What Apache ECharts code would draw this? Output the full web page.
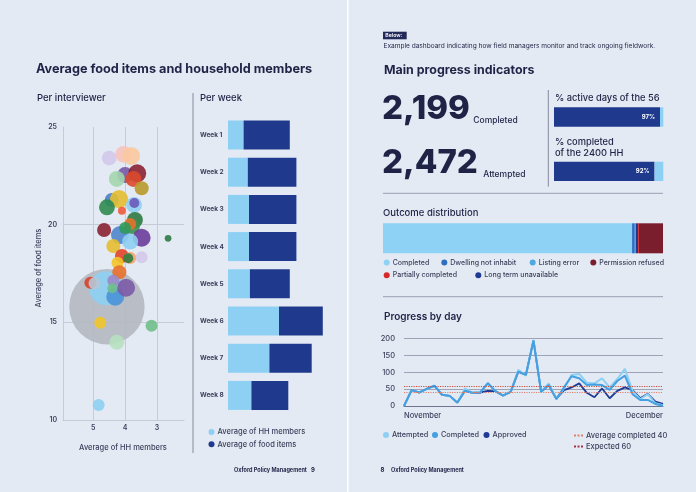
<!DOCTYPE html>
<html><head><meta charset="utf-8">
<script src="https://cdn.jsdelivr.net/npm/echarts@6/dist/echarts.min.js"></script>
<style>html,body{margin:0;padding:0;background:#e4eaf3}#c{width:696px;height:492px}</style>
</head><body><div id="c"></div><script>
// ---------- DATA ----------
// Per interviewer bubbles: avg HH members (x), avg food items (y), interviews (bubble size)
const bubbleHH    = [4.57,4.60,4.50,4.05,3.81,4.00,3.62,4.26,3.74,3.48,4.42,4.19,4.57,3.72,3.71,4.10,3.69,3.78,3.84,4.66,4.16,4.00,3.48,2.65,3.84,4.37,4.10,3.84,3.48,3.90,4.24,4.18,5.09,4.96,4.31,3.97,4.37,4.40,4.78,3.17,4.26,4.83];
const bubbleFood  = [15.80,16.74,23.41,23.60,23.52,22.54,22.63,22.34,22.34,21.86,21.26,21.31,20.89,21.01,21.11,20.71,20.24,19.93,20.03,19.73,19.47,19.83,19.33,19.30,19.13,18.91,18.40,18.29,18.33,18.28,18.05,17.56,17.03,17.00,16.31,16.77,17.13,16.74,14.98,14.83,13.98,10.77];
const bubbleInterviews = [632,128,24,31,36,28,36,28,28,22,22,36,28,28,11,7,28,28,16,22,36,16,36,5,28,22,22,16,16,11,16,22,16,16,36,36,16,11,16,16,25,16];
const hhTicks = [3,4,5];

// Per week
const weeks = ['Week 1','Week 2','Week 3','Week 4','Week 5','Week 6','Week 7','Week 8'];
const weekHH   = [5.2,6.6,7.0,7.0,7.3,17.0,13.8,7.8];
const weekFood = [15.4,16.2,15.8,15.8,13.3,14.6,14.1,12.3];

// Main indicators
const kpiCompleted = 2199;
const kpiAttempted = 2472;
const activeDaysTotal = 56;
const activeDaysPct = 97;
const hhTarget = 2400;
const completedPct = 92;

// Outcome distribution (bar order)
const outcomeNames  = ['Completed','Dwelling not inhabit','Listing error','Long term unavailable','Partially completed','Permission refused'];
const outcomeCounts = [2199,24,9,20,8,212];

// Progress by day
const dayLabels = ['1 Nov','2 Nov','3 Nov','4 Nov','5 Nov','6 Nov','7 Nov','8 Nov','9 Nov','10 Nov','11 Nov','12 Nov','13 Nov','14 Nov','15 Nov','16 Nov','17 Nov','18 Nov','19 Nov','20 Nov','21 Nov','22 Nov','23 Nov','24 Nov','25 Nov','26 Nov','27 Nov','28 Nov','29 Nov','30 Nov','1 Dec','2 Dec','3 Dec','4 Dec','5 Dec'];
const attempted = [0,47,40,51,60,33,30,10,52,39,42,66,44,31,42,107,90,196,42,67,21,52,92,95,69,67,82,55,80,110,45,20,35,8,2];
const completed = [0,47,40,51,60,33,30,10,45,39,40,68,44,31,42,102,92,194,42,62,21,55,88,82,62,64,62,48,74,90,35,18,18,6,1];
const approved  = [0,47,40,51,60,33,30,10,45,39,40,45,44,31,42,102,92,194,42,62,21,47,55,67,39,26,52,23,45,55,47,23,36,13,6];
const avgCompleted = 40;
const expectedDaily = 60;

// ---------- STYLE ----------
const FONT = 'Inter, "Noto Sans", sans-serif';
const INK = '#1f2346';
const SUB = '#3b3f5c';
const LIGHT = '#8dd0f3';
const NAVY = '#1f3a8c';
const GRIDC = '#c6cbd7';
const bubbleColors = ['#b4b9c1','#8ecff2','#d3c9ea','#f6c3bd','#fbc9a0','#7858a8','#8a2233','#a3d6ad','#dc4a2c','#b89a2c','#4a7fcb','#e4be30','#2f8a4f','#8ecff2','#6a58b8','#ef5a3c','#2f7a44','#3b8f4f','#e8702a','#8a2233','#4f86cc','#2e9b5a','#6a3d9a','#2f7a44','#8ecff2','#e4be30','#e0442c','#f5a36a','#d3c9ea','#2e7d3e','#f2c42a','#e8702a','#d9432a','#b7c6d6','#4a93d8','#7b5aa6','#9b87c9','#6fbf8a','#f2c42a','#6fbf8a','#b7e0c0','#8ecff2'];
const outcomeColors = ['#8ed2f5','#2f6fc0','#4fa8e0','#1f3a93','#d62a2a','#7a1e2e'];
const DASH_ICON = 'path://M0 0h2v2h-2z M3.5 0h2v2h-2z M7 0h2v2h-2z';

function T(x, y, text, size, weight, color, extra) {
  return Object.assign({type:'text', x:x, y:y, silent:true, style:{
    text:text, fill:color||INK, font: weight+' '+size+'px '+FONT,
    textAlign:'left', textVerticalAlign:'middle', align:'left', verticalAlign:'middle'}}, extra||{});
}
function L(x1,y1,x2,y2,color,w){ return {type:'line', silent:true, shape:{x1:x1,y1:y1,x2:x2,y2:y2}, style:{stroke:color,lineWidth:w||1}}; }

const total = outcomeCounts.reduce((a,b)=>a+b,0);

const chart = echarts.init(document.getElementById('c'));
const legendText = function(sz){ return {fontFamily:FONT, fontSize:sz, color:SUB, fontWeight:500, padding:[0,0,0,-2]}; };
const legendBase = {padding:0, icon:'circle', itemWidth:6, itemHeight:6, textStyle:legendText(7), selectedMode:false};
function LG(name, left, top, extra){ return Object.assign({}, legendBase, {data:[name], left:left, top:top}, extra||{}); }

const option = {
  backgroundColor:'#e4eaf3',
  animation:false,
  textStyle:{fontFamily:FONT},
  grid:[
    {left:63, top:127, width:121, height:293},
    {left:228, top:116.4, width:105, height:297.6},
    {left:554, top:107.3, width:109.3, height:19.4},
    {left:554, top:161.7, width:109.3, height:19.3},
    {left:383, top:223.3, width:280, height:30},
    {left:404, top:338.5, width:259, height:67.5}
  ],
  xAxis:[
    {type:'value', gridIndex:0, inverse:true, min:2.15, max:5.95,
     axisLine:{show:true, lineStyle:{color:GRIDC}}, axisTick:{show:false, customValues:hhTicks},
     axisLabel:{customValues:hhTicks, color:SUB, fontSize:7, fontWeight:600, margin:4},
     splitLine:{show:true, lineStyle:{color:GRIDC, width:1}}},
    {type:'value', gridIndex:1, min:0, max:35, show:false},
    {type:'value', gridIndex:2, min:0, max:100, show:false},
    {type:'value', gridIndex:3, min:0, max:100, show:false},
    {type:'value', gridIndex:4, min:0, max:total, show:false},
    {type:'category', gridIndex:5, data:dayLabels, boundaryGap:false,
     axisLine:{lineStyle:{color:'#6f7590', width:1}}, axisTick:{show:false},
     axisLabel:{color:SUB, fontSize:7.5, fontWeight:500, margin:6,
       interval:function(i){return i===0 || i===dayLabels.length-1;},
       alignMinLabel:'left', alignMaxLabel:'right',
       formatter:function(v){return v.indexOf('Nov')>=0?'November':'December';}}}
  ],
  yAxis:[
    {type:'value', gridIndex:0, min:10, max:25, interval:5,
     axisLine:{show:true, lineStyle:{color:GRIDC}}, axisTick:{show:false},
     axisLabel:{color:SUB, fontSize:7, fontWeight:600, margin:6},
     splitLine:{show:true, showMaxLine:false, lineStyle:{color:GRIDC}}},
    {type:'category', gridIndex:1, data:weeks, inverse:true,
     axisLine:{show:false}, axisTick:{show:false},
     axisLabel:{align:'left', margin:28, color:SUB, fontSize:6.5, fontWeight:700}},
    {type:'category', gridIndex:2, data:['a'], show:false},
    {type:'category', gridIndex:3, data:['a'], show:false},
    {type:'category', gridIndex:4, data:['a'], show:false},
    {type:'value', gridIndex:5, min:0, max:200, interval:50,
     axisLine:{show:false}, axisTick:{show:false},
     axisLabel:{color:SUB, fontSize:7.5, fontWeight:500, margin:9},
     splitLine:{lineStyle:{color:'#8c91a8', width:0.8}}}
  ],
  legend:[
    Object.assign({}, legendBase, {data:['Average of HH members','Average of food items'], orient:'vertical', left:208.5, top:428, itemGap:4.3, textStyle:legendText(7.5)}),
    LG('Completed', 383.7, 259),
    LG('Dwelling not inhabit', 441.3, 259),
    LG('Listing error', 529.7, 259),
    LG('Permission refused', 590.3, 259),
    LG('Partially completed', 383.7, 271.7),
    LG('Long term unavailable', 475.3, 271.7),
    LG('Attempted', 383, 431.5, {textStyle:legendText(7.3)}),
    LG('Completed ', 432, 431.5, {textStyle:legendText(7.3)}),
    LG('Approved', 483.5, 431.5, {textStyle:legendText(7.3)}),
    LG('Average completed ' + avgCompleted, 574, 431.5, {icon:DASH_ICON, itemWidth:9, itemHeight:2, textStyle:legendText(7.5)}),
    LG('Expected ' + expectedDaily, 574, 442.5, {icon:DASH_ICON, itemWidth:9, itemHeight:2, textStyle:legendText(7.5)})
  ],
  series:[
    {type:'scatter', name:'Interviewers', xAxisIndex:0, yAxisIndex:0,
     data: bubbleHH.map(function(h,i){return [h, bubbleFood[i], bubbleInterviews[i]];}),
     symbolSize:function(v){return Math.sqrt(v[2])*3;},
     itemStyle:{opacity:0.9, color:function(p){return bubbleColors[p.dataIndex];}}},
    {type:'bar', name:'Average of HH members', xAxisIndex:1, yAxisIndex:1, stack:'w', barWidth:29, data:weekHH, itemStyle:{color:LIGHT}},
    {type:'bar', name:'Average of food items', xAxisIndex:1, yAxisIndex:1, stack:'w', barWidth:29, data:weekFood, itemStyle:{color:NAVY}},
    {type:'bar', name:'Active days', xAxisIndex:2, yAxisIndex:2, stack:'a', barWidth:19.4, data:[activeDaysPct], itemStyle:{color:NAVY},
     label:{show:true, position:'insideRight', formatter:'{c}%', color:'#fff', fontSize:6, fontWeight:700, distance:5}},
    {type:'bar', name:'Inactive days', xAxisIndex:2, yAxisIndex:2, stack:'a', barWidth:19.4, data:[100-activeDaysPct], itemStyle:{color:LIGHT}},
    {type:'bar', name:'HH completed', xAxisIndex:3, yAxisIndex:3, stack:'b', barWidth:19.3, data:[completedPct], itemStyle:{color:NAVY},
     label:{show:true, position:'insideRight', formatter:'{c}%', color:'#fff', fontSize:6, fontWeight:700, distance:5}},
    {type:'bar', name:'HH remaining', xAxisIndex:3, yAxisIndex:3, stack:'b', barWidth:19.3, data:[100-completedPct], itemStyle:{color:LIGHT}}
  ].concat(outcomeNames.map(function(n,i){
    return {type:'bar', name:n, xAxisIndex:4, yAxisIndex:4, stack:'o', barWidth:30, data:[outcomeCounts[i]], itemStyle:{color:outcomeColors[i]}};
  })).concat([
    {type:'line', name:'Approved', xAxisIndex:5, yAxisIndex:5, data:approved, symbol:'circle', showSymbol:false, color:'#1f3a93', lineStyle:{width:1.8, color:'#1f3a93'}},
    {type:'line', name:'Attempted', xAxisIndex:5, yAxisIndex:5, data:attempted, symbol:'circle', showSymbol:false, color:'#8dd0f3', lineStyle:{width:2, color:'#8dd0f3'}},
    {type:'line', name:'Completed ', xAxisIndex:5, yAxisIndex:5, data:completed, symbol:'circle', showSymbol:false, color:'#45a0e2', lineStyle:{width:2, color:'#45a0e2'}},
    {type:'line', name:'Average completed ' + avgCompleted, xAxisIndex:5, yAxisIndex:5, data:[], symbol:'none', color:'#e3806c',
     lineStyle:{type:'dotted', width:1.5, color:'#e3806c'},
     markLine:{silent:true, symbol:'none', label:{show:false}, lineStyle:{type:'dotted', width:1.2, color:'#e3806c'}, data:[{yAxis:avgCompleted}]}},
    {type:'line', name:'Expected ' + expectedDaily, xAxisIndex:5, yAxisIndex:5, data:[], symbol:'none', color:'#a83242',
     lineStyle:{type:'dotted', width:1.5, color:'#a83242'},
     markLine:{silent:true, symbol:'none', label:{show:false}, lineStyle:{type:'dotted', width:1.2, color:'#c8503e'}, data:[{yAxis:expectedDaily}]}}
  ]),
  graphic:[
    {type:'rect', silent:true, shape:{x:347, y:0, width:1.6, height:492}, style:{fill:'#ffffff'}},
    T(36, 69, 'Average food items and household members', 12.7, 700),
    T(37, 98, 'Per interviewer', 9.5, 500),
    L(193, 93, 193, 453, '#6d7288', 0.8),
    T(200, 98, 'Per week', 9.5, 500),
    {type:'text', x:123, y:447.7, silent:true, style:{text:'Average of HH members', fill:SUB, font:'500 7.5px '+FONT, textAlign:'center', align:'center', textVerticalAlign:'middle', verticalAlign:'middle'}},
    {type:'text', x:39, y:268, rotation:Math.PI/2, silent:true, style:{text:'Average of food items', fill:SUB, font:'500 7.5px '+FONT, textAlign:'center', align:'center', textVerticalAlign:'middle', verticalAlign:'middle'}},
    T(234, 470, 'Oxford Policy Management', 5.5, 700),
    T(311, 470, '9', 6, 700),
    {type:'rect', silent:true, shape:{x:383, y:31.7, width:23.7, height:7.6}, style:{fill:'#232a5a'}},
    T(385.3, 35.6, 'Below:', 5.2, 600, '#ffffff'),
    T(383.5, 45.7, 'Example dashboard indicating how field managers monitor and track ongoing fieldwork.', 6.55, 400),
    T(384, 70, 'Main progress indicators', 12.4, 700),
    T(382, 109.5, kpiCompleted.toLocaleString('en-US'), 33, 800),
    T(473.3, 120.5, 'Completed', 8.5, 500),
    T(382, 163, kpiAttempted.toLocaleString('en-US'), 33, 800),
    T(483.3, 174, 'Attempted', 8.5, 500),
    L(548.3, 90, 548.3, 186.7, '#6d7288', 0.8),
    T(555, 98.3, '% active days of the ' + activeDaysTotal, 9.3, 500),
    T(555, 141.7, '% completed', 9.3, 500),
    T(555, 152.7, 'of the ' + hhTarget + ' HH', 9.3, 500),
    L(383, 193.3, 663, 193.3, '#9aa0b4', 1),
    T(383, 212.7, 'Outcome distribution', 9.5, 500),
    L(383, 296.7, 663, 296.7, '#9aa0b4', 1),
    T(384, 316.7, 'Progress by day', 10, 600),
    T(380.5, 470.7, '8', 6, 700),
    T(391, 470.7, 'Oxford Policy Management', 5.5, 700)
  ]
};
chart.setOption(option);
</script></body></html>
